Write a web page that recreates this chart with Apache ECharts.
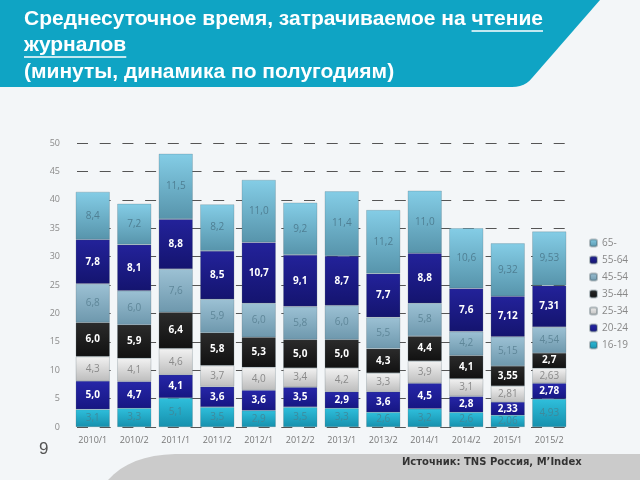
<!DOCTYPE html>
<html><head><meta charset="utf-8">
<script src="https://cdn.jsdelivr.net/npm/echarts@6/dist/echarts.min.js"></script>
<style>html,body{margin:0;padding:0;background:#f3f6f8}#c{width:640px;height:480px}</style>
</head><body><div id="c"></div>
<script>
const categories = ['2010/1','2010/2','2011/1','2011/2','2012/1','2012/2','2013/1','2013/2','2014/1','2014/2','2015/1','2015/2'];
const s16_19 = [3.1,3.3,5.1,3.5,2.9,3.5,3.3,2.6,3.2,2.6,2.06,4.93];
const s20_24 = [5.0,4.7,4.1,3.6,3.6,3.5,2.9,3.6,4.5,2.8,2.33,2.78];
const s25_34 = [4.3,4.1,4.6,3.7,4.0,3.4,4.2,3.3,3.9,3.1,2.81,2.63];
const s35_44 = [6.0,5.9,6.4,5.8,5.3,5.0,5.0,4.3,4.4,4.1,3.55,2.7];
const s45_54 = [6.8,6.0,7.6,5.9,6.0,5.8,6.0,5.5,5.8,4.2,5.15,4.54];
const s55_64 = [7.8,8.1,8.8,8.5,10.7,9.1,8.7,7.7,8.8,7.6,7.12,7.31];
const s65 = [8.4,7.2,11.5,8.2,11.0,9.2,11.4,11.2,11.0,10.6,9.32,9.53];
const seriesNames = ['16-19','20-24','25-34','35-44','45-54','55-64','65-'];
const seriesData = [s16_19,s20_24,s25_34,s35_44,s45_54,s55_64,s65];
const titleLine1 = 'Среднесуточное время, затрачиваемое на ';
const titleLine1u = 'чтение';
const titleLine2 = 'журналов';
const titleLine3 = '(минуты, динамика по полугодиям)';
const sourceText = 'Источник: TNS Россия, M\u2019Index';
const pageNum = '9';

function grad(a,b){return {type:'linear',x:0,y:0,x2:0,y2:1,colorStops:[{offset:0,color:a},{offset:1,color:b}]};}
const styles = [
  {c:grad('#2fbfdc','#1690ad'), lc:'#3e8a9c', bold:false},
  {c:grad('#2626a8','#161682'), lc:'#ffffff', bold:true},
  {c:grad('#f2f2f2','#bdbdbd'), lc:'#8a8a8a', bold:false},
  {c:grad('#2b2b2b','#111111'), lc:'#ffffff', bold:true},
  {c:grad('#9cc1d4','#6e98ad'), lc:'#5f8799', bold:false},
  {c:grad('#23229a','#14146f'), lc:'#ffffff', bold:true},
  {c:grad('#84cde6','#5794ab'), lc:'#4f7f93', bold:false}
];
function fmt(v){const r=Math.round(v*10)/10; return (Math.abs(r-v)<1e-9? v.toFixed(1): v.toFixed(2)).replace('.',',');}

const series = seriesNames.map((n,i)=>({
  name:n, type:'bar', stack:'t', barCategoryGap:'18%',
  data:seriesData[i],
  itemStyle:{color:styles[i].c, borderColor:'rgba(60,80,90,0.35)', borderWidth:0.6},
  label:{show:true, position:'inside', formatter:p=>fmt(p.value), color:styles[i].lc,
    fontSize:10, fontWeight:styles[i].bold?'bold':'normal', fontFamily:'"Open Sans", "Liberation Sans", sans-serif'},
  emphasis:{disabled:true}
}));

const tFont = 'bold 21px "Liberation Sans", Arial, sans-serif';
const mc = document.createElement('canvas').getContext('2d');
mc.font = tFont;
const w1 = mc.measureText(titleLine1).width;
const w1u = mc.measureText(titleLine1u).width;
const w2 = mc.measureText(titleLine2).width;
const tx = 24;

const bannerPts = [[0,0],[600,0],[532,78]];
for(let k=1;k<=6;k++){const t=k/6; const x=(1-t)*(1-t)*532+2*t*(1-t)*525+t*t*512; const y=(1-t)*(1-t)*78+2*t*(1-t)*87+t*t*87; bannerPts.push([x,y]);}
bannerPts.push([0,87]);
const bandPts = [[108,480]];
for(let k=1;k<=8;k++){const t=k/8; const x=(1-t)*(1-t)*108+2*t*(1-t)*130+t*t*175; const y=(1-t)*(1-t)*480+2*t*(1-t)*455+t*t*454; bandPts.push([x,y]);}
bandPts.push([640,454],[640,480]);

const chart = echarts.init(document.getElementById('c'), null, {renderer:'canvas'});
chart.setOption({
  backgroundColor:'#f3f6f8',
  animation:false,
  grid:{left:72, right:70, top:143, bottom:53},
  xAxis:{type:'category', data:categories, axisLine:{show:false}, axisTick:{show:false},
    axisLabel:{color:'#777', fontSize:9, margin:9, fontFamily:'"Open Sans", sans-serif'}},
  yAxis:{type:'value', min:0, max:50, interval:5,
    axisLabel:{color:'#8a8a8a', fontSize:9, margin:12, fontFamily:'"Open Sans", sans-serif'},
    splitLine:{lineStyle:{color:'#555', type:[11,11.7], dashOffset:-5, width:1.2}}},
  legend:{orient:'vertical', left:584, top:233, itemWidth:7, itemHeight:7, itemGap:7,
    data:seriesNames.slice().reverse(),
    textStyle:{color:'#888', fontSize:10, fontFamily:'"Open Sans", sans-serif'}},
  series:series,
  graphic:[
    {type:'polygon', z:-1, shape:{points:bannerPts}, style:{fill:'#0fa4c4'}},
    {type:'polygon', z:-1, shape:{points:bandPts}, style:{fill:'#cbcbcb'}},
    {type:'text', left:tx, top:9, style:{text:titleLine1+titleLine1u, font:tFont, fill:'#ffffff'}},
    {type:'line', shape:{x1:tx+w1, y1:31, x2:tx+w1+w1u, y2:31}, style:{stroke:'#ffffff', lineWidth:1.5}},
    {type:'text', left:tx, top:35, style:{text:titleLine2, font:tFont, fill:'#ffffff'}},
    {type:'line', shape:{x1:tx, y1:57, x2:tx+w2, y2:57}, style:{stroke:'#ffffff', lineWidth:1.5}},
    {type:'text', left:tx, top:62, style:{text:titleLine3, font:tFont, fill:'#ffffff'}},
    {type:'text', left:39, top:441, style:{text:pageNum, font:'17px "Liberation Sans", sans-serif', fill:'#555'}},
    {type:'text', left:402, top:457, style:{text:sourceText, font:'bold 10px "DejaVu Sans", sans-serif', fill:'#333'}}
  ]
});
</script></body></html>
